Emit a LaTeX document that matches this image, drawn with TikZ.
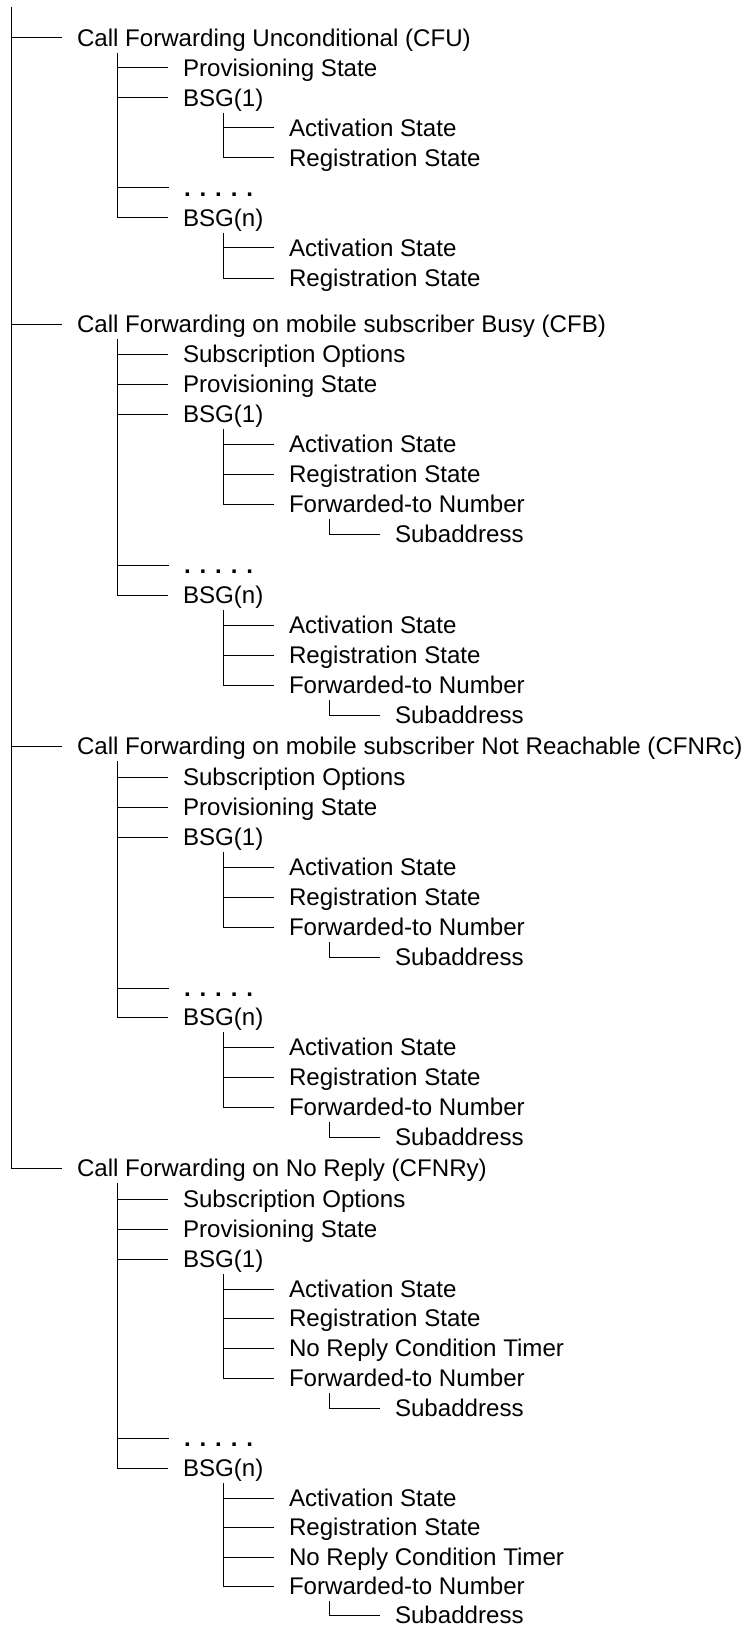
\documentclass[tikz,border=0pt]{standalone}
\usepackage{fontspec}
\setmainfont{Liberation Sans}
\newcommand\treebr[2]{\draw[tl] ([shift={(40pt,-15pt)}]#1.west) |- ([xshift=-15pt]#2.west);}
\begin{document}
\begin{tikzpicture}[x=1pt,y=1pt,
  lbl/.style={anchor=west,inner sep=0pt,outer sep=0pt,text height=17.3pt,text depth=0pt,font=\fontsize{24.1}{28}\selectfont},
  dots/.style={lbl,font=\fontsize{24.1}{28}\selectfont\bfseries},
  tl/.style={line width=1pt,black}]
\useasboundingbox (0,0) rectangle (743,-1629);
\coordinate (root) at (11,-7);
% ---------- CFU ----------
\node[lbl] (a) at (77,-38) {Call Forwarding Unconditional (CFU)};
\node[lbl] (ap) at (183,-68) {Provisioning State};
\node[lbl] (ab1) at (183,-98) {BSG(1)};
\node[lbl] (ab1a) at (289,-128) {Activation State};
\node[lbl] (ab1r) at (289,-158) {Registration State};
\node[dots] (ad) at (184,-188) {. . . . .};
\node[lbl] (abn) at (183,-218) {BSG(n)};
\node[lbl] (abna) at (289,-248) {Activation State};
\node[lbl] (abnr) at (289,-278) {Registration State};
% ---------- CFB ----------
\node[lbl] (b) at (77,-324) {Call Forwarding on mobile subscriber Busy (CFB)};
\node[lbl] (bs) at (183,-354) {Subscription Options};
\node[lbl] (bp) at (183,-384) {Provisioning State};
\node[lbl] (bb1) at (183,-414) {BSG(1)};
\node[lbl] (bb1a) at (289,-444) {Activation State};
\node[lbl] (bb1r) at (289,-474) {Registration State};
\node[lbl] (bb1f) at (289,-504) {Forwarded-to Number};
\node[lbl] (bb1fs) at (395,-534) {Subaddress};
\node[dots] (bd) at (184,-565) {. . . . .};
\node[lbl] (bbn) at (183,-595) {BSG(n)};
\node[lbl] (bbna) at (289,-625) {Activation State};
\node[lbl] (bbnr) at (289,-655) {Registration State};
\node[lbl] (bbnf) at (289,-685) {Forwarded-to Number};
\node[lbl] (bbnfs) at (395,-715) {Subaddress};
% ---------- CFNRc ----------
\node[lbl] (c) at (77,-746) {Call Forwarding on mobile subscriber Not Reachable (CFNRc)};
\node[lbl] (cs) at (183,-777) {Subscription Options};
\node[lbl] (cp) at (183,-807) {Provisioning State};
\node[lbl] (cb1) at (183,-837) {BSG(1)};
\node[lbl] (cb1a) at (289,-867) {Activation State};
\node[lbl] (cb1r) at (289,-897) {Registration State};
\node[lbl] (cb1f) at (289,-927) {Forwarded-to Number};
\node[lbl] (cb1fs) at (395,-957) {Subaddress};
\node[dots] (cd) at (184,-988) {. . . . .};
\node[lbl] (cbn) at (183,-1017) {BSG(n)};
\node[lbl] (cbna) at (289,-1047) {Activation State};
\node[lbl] (cbnr) at (289,-1077) {Registration State};
\node[lbl] (cbnf) at (289,-1107) {Forwarded-to Number};
\node[lbl] (cbnfs) at (395,-1137) {Subaddress};
% ---------- CFNRy ----------
\node[lbl] (d) at (77,-1168) {Call Forwarding on No Reply (CFNRy)};
\node[lbl] (ds) at (183,-1199) {Subscription Options};
\node[lbl] (dp) at (183,-1229) {Provisioning State};
\node[lbl] (db1) at (183,-1259) {BSG(1)};
\node[lbl] (db1a) at (289,-1289) {Activation State};
\node[lbl] (db1r) at (289,-1318) {Registration State};
\node[lbl] (db1t) at (289,-1348) {No Reply Condition Timer};
\node[lbl] (db1f) at (289,-1378) {Forwarded-to Number};
\node[lbl] (db1fs) at (395,-1408) {Subaddress};
\node[dots] (dd) at (184,-1438) {. . . . .};
\node[lbl] (dbn) at (183,-1468) {BSG(n)};
\node[lbl] (dbna) at (289,-1498) {Activation State};
\node[lbl] (dbnr) at (289,-1527) {Registration State};
\node[lbl] (dbnt) at (289,-1557) {No Reply Condition Timer};
\node[lbl] (dbnf) at (289,-1586) {Forwarded-to Number};
\node[lbl] (dbnfs) at (395,-1615) {Subaddress};
% ---------- connectors ----------
\foreach \n in {a,b,c,d} {\draw[tl] (root) |- ([xshift=-15pt]\n.west);}
% CFU
\treebr{a}{ap}\treebr{a}{ab1}\treebr{a}{ad}\treebr{a}{abn}
\treebr{ab1}{ab1a}\treebr{ab1}{ab1r}
\treebr{abn}{abna}\treebr{abn}{abnr}
% CFB
\treebr{b}{bs}\treebr{b}{bp}\treebr{b}{bb1}\treebr{b}{bd}\treebr{b}{bbn}
\treebr{bb1}{bb1a}\treebr{bb1}{bb1r}\treebr{bb1}{bb1f}\treebr{bb1f}{bb1fs}
\treebr{bbn}{bbna}\treebr{bbn}{bbnr}\treebr{bbn}{bbnf}\treebr{bbnf}{bbnfs}
% CFNRc
\treebr{c}{cs}\treebr{c}{cp}\treebr{c}{cb1}\treebr{c}{cd}\treebr{c}{cbn}
\treebr{cb1}{cb1a}\treebr{cb1}{cb1r}\treebr{cb1}{cb1f}\treebr{cb1f}{cb1fs}
\treebr{cbn}{cbna}\treebr{cbn}{cbnr}\treebr{cbn}{cbnf}\treebr{cbnf}{cbnfs}
% CFNRy
\treebr{d}{ds}\treebr{d}{dp}\treebr{d}{db1}\treebr{d}{dd}\treebr{d}{dbn}
\treebr{db1}{db1a}\treebr{db1}{db1r}\treebr{db1}{db1t}\treebr{db1}{db1f}\treebr{db1f}{db1fs}
\treebr{dbn}{dbna}\treebr{dbn}{dbnr}\treebr{dbn}{dbnt}\treebr{dbn}{dbnf}\treebr{dbnf}{dbnfs}
\end{tikzpicture}
\end{document}
